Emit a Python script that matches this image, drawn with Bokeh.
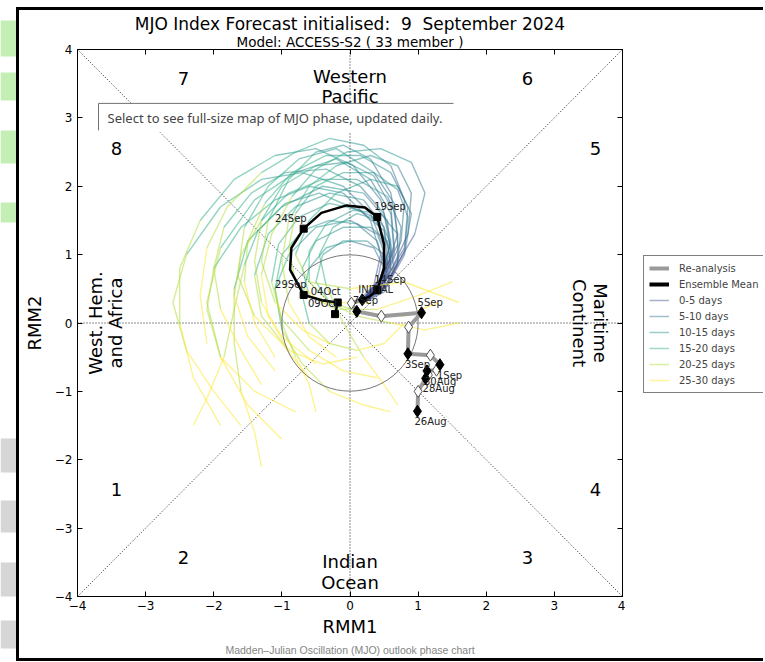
import numpy as np
from bokeh.plotting import figure
from bokeh.layouts import row, column
from bokeh.models import (Range1d, LinearAxis, FixedTicker, Label, Legend,
                          LegendItem, Title, Spacer, Div)
from bokeh.core.properties import value
from bokeh.embed import file_html
from bokeh.resources import INLINE

# ---------------- data ----------------
TITLE = "MJO Index Forecast initialised:\u00a0 9\u00a0 September 2024"
SUBTITLE = "Model: ACCESS-S2 ( 33 member )"
CAPTION = "Madden\u2013Julian Oscillation (MJO) outlook phase chart"
TOOLTIP = "Select to see full-size map of MJO phase, updated daily."
X_LABEL = "RMM1"
Y_LABEL = "RMM2"

tick_values = [-4, -3, -2, -1, 0, 1, 2, 3, 4]
tick_labels = ["\u22124", "\u22123", "\u22122", "\u22121", "0", "1", "2", "3", "4"]

lead_classes = ["0-5 days", "5-10 days", "10-15 days", "15-20 days", "20-25 days", "25-30 days"]
lead_colors = ["#3b4f8b", "#2c728e", "#21918c", "#28ae80", "#addc30", "#fde725"]

# Re-analysis (observed) 26 Aug .. 9 Sep
reana_x = [0.99, 1.00, 1.11, 1.15, 1.13, 1.27, 1.32, 1.18, 0.85, 0.86, 1.05, 0.46, 0.10, 0.02, 0.18]
reana_y = [-1.29, -1.00, -0.81, -0.76, -0.70, -0.69, -0.61, -0.47, -0.45, -0.06, 0.15, 0.10, 0.17, 0.29, 0.34]
reana_labels = ["26Aug", "", "28Aug", "", "30Aug", "", "1Sep", "", "3Sep", "", "5Sep", "", "7Sep", "", "INITIAL"]

# Ensemble mean forecast (lead days)
mean_days = [0, 2.5, 5, 6.5, 8, 10, 11.5, 13, 14, 15, 16.5, 18, 20, 22.5, 25, 27.5, 30]
mean_x = [0.18, 0.29, 0.40, 0.50, 0.50, 0.40, 0.22, -0.05, -0.42, -0.68, -0.86, -0.88, -0.68, -0.40, -0.18, -0.20, -0.22]
mean_y = [0.34, 0.39, 0.48, 0.80, 1.15, 1.55, 1.69, 1.72, 1.61, 1.38, 1.10, 0.78, 0.41, 0.33, 0.30, 0.21, 0.13]
mean_marker_days = [5, 10, 15, 20, 25, 30]
mean_marker_labels = ["14Sep", "19Sep", "24Sep", "29Sep", "04Oct", "09Oct"]

# Ensemble members, sampled every 2.5 lead days (0 .. 30)
member_days = [0, 2.5, 5, 7.5, 10, 12.5, 15, 17.5, 20, 22.5, 25, 27.5, 30]
members_x = [
    [0.18, 0.45, 0.65, 0.60, 0.30, -0.20, -0.80, -1.40, -1.90, -2.10, -1.90, -1.50, -1.00],
    [0.20, 0.50, 0.70, 0.60, 0.30, -0.10, -0.50, -0.90, -1.20, -1.30, -1.10, -0.70, -0.30],
    [0.15, 0.40, 0.55, 0.50, 0.20, -0.30, -0.80, -1.20, -1.40, -1.30, -0.90, -0.40, 0.10],
    [0.20, 0.45, 0.60, 0.55, 0.30, -0.10, -0.50, -0.70, -0.60, -0.20, 0.40, 1.00, 1.50],
    [0.20, 0.55, 0.80, 0.90, 0.70, 0.30, -0.20, -0.60, -0.80, -0.60, 0.00, 0.80, 1.60],
    [0.18, 0.40, 0.50, 0.30, -0.10, -0.70, -1.30, -1.90, -2.40, -2.60, -2.40, -2.00, -1.60],
    [0.20, 0.45, 0.60, 0.55, 0.20, -0.40, -1.00, -1.50, -1.70, -1.70, -1.60, -1.40, -1.30],
    [0.20, 0.40, 0.50, 0.35, 0.00, -0.35, -0.60, -0.70, -0.60, -0.30, 0.10, 0.50, 0.80],
    [0.18, 0.50, 0.75, 0.80, 0.60, 0.20, -0.30, -0.80, -1.30, -1.80, -2.10, -2.20, -2.10],
    [0.20, 0.45, 0.55, 0.40, 0.00, -0.50, -0.90, -1.10, -1.00, -0.70, -0.30, 0.20, 0.60],
    [0.15, 0.35, 0.45, 0.30, -0.10, -0.60, -1.10, -1.60, -2.00, -2.10, -1.90, -1.40, -0.80],
    [0.20, 0.55, 0.85, 0.90, 0.70, 0.30, -0.20, -0.60, -0.90, -1.00, -0.90, -0.60, -0.20],
    [0.20, 0.50, 0.70, 0.75, 0.55, 0.10, -0.40, -0.90, -1.30, -1.60, -1.70, -1.50, -1.10],
    [0.20, 0.40, 0.55, 0.50, 0.25, -0.10, -0.40, -0.50, -0.30, 0.10, 0.60, 1.10, 1.60],
    [0.18, 0.40, 0.60, 0.50, 0.15, -0.35, -0.95, -1.45, -1.85, -2.00, -1.90, -1.60, -1.30],
    [0.20, 0.45, 0.65, 0.60, 0.35, -0.05, -0.50, -1.00, -1.30, -1.40, -1.30, -1.00, -0.50],
    [0.20, 0.50, 0.70, 0.70, 0.45, 0.05, -0.35, -0.60, -0.60, -0.30, 0.20, 0.80, 1.30],
    [0.18, 0.45, 0.60, 0.45, 0.05, -0.50, -1.10, -1.70, -2.20, -2.50, -2.50, -2.30, -1.90],
    [0.20, 0.45, 0.60, 0.50, 0.15, -0.30, -0.75, -1.05, -1.15, -1.00, -0.60, -0.10, 0.40],
    [0.20, 0.50, 0.80, 0.85, 0.60, 0.15, -0.35, -0.85, -1.25, -1.50, -1.55, -1.40, -1.10],
    [0.18, 0.40, 0.50, 0.40, 0.10, -0.30, -0.70, -1.00, -1.10, -1.00, -0.80, -0.60, -0.50],
    [0.20, 0.55, 0.80, 0.85, 0.70, 0.35, -0.10, -0.50, -0.80, -0.90, -0.80, -0.40, 0.30],
    [0.20, 0.60, 0.95, 1.10, 0.90, 0.45, -0.05, -0.50, -0.85, -1.15, -1.30, -1.20, -0.90],
    [0.18, 0.42, 0.58, 0.35, 0.00, -0.45, -0.95, -1.35, -1.55, -1.70, -1.85, -2.10, -2.30],
    [0.20, 0.50, 0.65, 0.60, 0.45, 0.10, -0.25, -0.45, -0.35, -0.10, 0.20, 0.50, 0.70],
    [0.20, 0.45, 0.70, 0.65, 0.35, -0.20, -0.75, -1.20, -1.55, -1.65, -1.40, -1.00, -0.60],
]
members_y = [
    [0.34, 0.55, 1.00, 1.60, 2.10, 2.40, 2.20, 1.80, 1.10, 0.30, -0.50, -1.20, -1.70],
    [0.35, 0.70, 1.30, 1.90, 2.40, 2.60, 2.50, 2.10, 1.50, 0.90, 0.30, -0.10, -0.30],
    [0.30, 0.50, 0.90, 1.40, 1.80, 1.90, 1.70, 1.30, 0.70, 0.10, -0.40, -0.60, -0.50],
    [0.30, 0.45, 0.80, 1.20, 1.40, 1.40, 1.20, 0.80, 0.40, 0.20, 0.20, 0.40, 0.60],
    [0.35, 0.55, 1.00, 1.60, 2.00, 2.10, 1.90, 1.50, 1.00, 0.60, 0.50, 0.60, 0.30],
    [0.32, 0.60, 1.10, 1.60, 2.00, 2.20, 2.10, 1.70, 1.00, 0.30, -0.40, -1.00, -1.50],
    [0.30, 0.50, 0.95, 1.50, 1.90, 2.00, 1.70, 1.20, 0.50, -0.30, -1.00, -1.60, -2.10],
    [0.35, 0.50, 0.80, 1.10, 1.20, 1.10, 0.80, 0.40, 0.00, -0.30, -0.40, -0.30, 0.00],
    [0.35, 0.60, 1.20, 1.80, 2.30, 2.60, 2.70, 2.50, 2.20, 1.70, 1.10, 0.40, -0.30],
    [0.30, 0.50, 0.90, 1.30, 1.50, 1.40, 1.00, 0.50, -0.10, -0.60, -1.00, -1.20, -1.30],
    [0.35, 0.55, 1.00, 1.50, 1.90, 2.00, 1.80, 1.40, 0.80, 0.20, -0.50, -1.00, -1.30],
    [0.35, 0.65, 1.30, 1.90, 2.30, 2.45, 2.30, 2.00, 1.50, 0.90, 0.30, -0.20, -0.50],
    [0.30, 0.50, 0.90, 1.40, 1.85, 2.10, 2.10, 1.90, 1.50, 1.00, 0.40, -0.20, -0.70],
    [0.35, 0.45, 0.70, 1.00, 1.20, 1.20, 1.00, 0.60, 0.30, 0.10, 0.00, -0.10, 0.00],
    [0.32, 0.55, 1.05, 1.60, 2.00, 2.25, 2.20, 1.90, 1.40, 0.80, 0.20, -0.40, -0.90],
    [0.33, 0.60, 1.10, 1.70, 2.15, 2.35, 2.30, 2.00, 1.50, 0.90, 0.30, -0.20, -0.60],
    [0.34, 0.50, 0.85, 1.30, 1.60, 1.65, 1.45, 1.05, 0.60, 0.30, 0.15, 0.10, 0.30],
    [0.34, 0.65, 1.20, 1.80, 2.30, 2.55, 2.45, 2.10, 1.50, 0.80, 0.00, -0.80, -1.50],
    [0.30, 0.50, 0.90, 1.35, 1.65, 1.75, 1.55, 1.15, 0.60, 0.05, -0.40, -0.70, -0.80],
    [0.35, 0.60, 1.10, 1.70, 2.20, 2.45, 2.45, 2.20, 1.75, 1.20, 0.60, 0.00, -0.50],
    [0.33, 0.50, 0.85, 1.20, 1.45, 1.50, 1.35, 1.00, 0.50, 0.00, -0.50, -0.90, -1.30],
    [0.34, 0.60, 1.05, 1.55, 1.95, 2.20, 2.20, 2.00, 1.60, 1.10, 0.60, 0.30, 0.30],
    [0.34, 0.70, 1.30, 1.90, 2.35, 2.55, 2.50, 2.25, 1.85, 1.30, 0.70, 0.10, -0.40],
    [0.34, 0.58, 1.10, 1.55, 1.70, 1.90, 1.75, 1.35, 0.85, 0.20, -0.50, -1.10, -1.50],
    [0.30, 0.45, 0.75, 1.15, 1.50, 1.60, 1.40, 1.00, 0.55, 0.00, -0.50, -0.90, -1.20],
    [0.35, 0.65, 1.15, 1.75, 2.20, 2.55, 2.40, 2.00, 1.40, 0.70, 0.10, -0.30, -0.80],
]

phase_names = ["1", "2", "3", "4", "5", "6", "7", "8"]

# ---------------- layout helpers ----------------
FX0, FX1, FY0, FY1 = 77.0, 622.0, 49.0, 597.0   # chart frame edges on the page


def page_x(px):
    return -4 + 8 * (px - FX0) / (FX1 - FX0)


def page_y(py):
    return 4 - 8 * (py - FY0) / (FY1 - FY0)


DJ = "DejaVu Sans"


def bar(w, h, color="black"):
    return Div(text="", width=w, height=h, margin=0,
               styles={"background-color": color})


# ---------------- main chart ----------------
p = figure(width=606, height=648, x_range=Range1d(-4, 4), y_range=Range1d(-4, 4),
           output_backend="svg", toolbar_location=None, title_location=None,
           min_border_left=58, min_border_right=3, min_border_top=39, min_border_bottom=61)
p.grid.visible = False
p.outline_line_color = "black"
p.outline_line_width = 1
p.background_fill_color = "white"
p.border_fill_color = "white"

top_axis = LinearAxis()
right_axis = LinearAxis()
p.add_layout(top_axis, "above")
p.add_layout(right_axis, "right")
for ax in list(p.xaxis) + list(p.yaxis):
    ax.ticker = FixedTicker(ticks=tick_values)
    ax.minor_tick_line_color = None
    ax.major_tick_in = 5
    ax.major_tick_out = 0
    ax.axis_line_color = "black"
    ax.major_tick_line_color = "black"
    ax.major_label_text_font = DJ
    ax.major_label_text_font_size = "12px"
    ax.major_label_text_color = "black"
    ax.major_label_standoff = 5
bottom_axis, left_axis = p.below[0], p.left[0]
for ax in [bottom_axis, left_axis]:
    ax.major_label_overrides = dict(zip(tick_values, tick_labels))
    ax.axis_label_text_font = DJ
    ax.axis_label_text_font_size = "18px"
    ax.axis_label_text_font_style = "normal"
    ax.axis_label_text_color = "black"
bottom_axis.major_label_standoff = 4
bottom_axis.axis_label = X_LABEL
bottom_axis.axis_label_standoff = 3
left_axis.axis_label = Y_LABEL
left_axis.axis_label_standoff = 7
for ax in [top_axis, right_axis]:
    ax.major_label_overrides = {t: "" for t in tick_values}
    ax.major_label_text_font_size = "0px"
    ax.major_label_standoff = 0

p.add_layout(Title(text=SUBTITLE, align="center", text_font=DJ, text_font_size="13.5px",
                   text_font_style="normal", text_color="black", standoff=-1), "above")
p.add_layout(Title(text=TITLE, align="center", text_font=DJ, text_font_size="17px",
                   text_font_style="normal", text_color="black", standoff=-3), "above")
p.add_layout(Title(text=CAPTION, align="center", offset=50, text_font="Liberation Sans",
                   text_font_size="10.5px", text_font_style="normal", text_color="#858585",
                   standoff=5), "below")

# dotted phase dividers
p.segment(x0=[-4, -4, -4, 0], y0=[-4, 4, 0, -4], x1=[4, 4, 4, 0], y1=[4, -4, 0, 4],
          line_color="black", line_width=1, line_dash="1 2", line_alpha=0.9)

# ensemble members, coloured by lead time
for k, col in enumerate(lead_colors):
    xs, ys = [], []
    for mx, my in zip(members_x, members_y):
        xs.append(mx[2 * k:2 * k + 3])
        ys.append(my[2 * k:2 * k + 3])
    p.multi_line(xs=xs, ys=ys, line_color=col, line_width=1.4, line_alpha=0.5)

# unit circle
p.circle(x=[0], y=[0], radius=1, fill_alpha=0, line_color="#777777", line_width=1)

# tooltip box over the chart
p.quad(left=[page_x(98)], right=[page_x(453)], top=[page_y(103)], bottom=[page_y(132)],
       fill_color="white", line_alpha=0)
p.segment(x0=[page_x(98), page_x(98)], y0=[page_y(103), page_y(103)],
          x1=[page_x(453), page_x(98)], y1=[page_y(103), page_y(130)],
          line_color="#707070", line_width=1)

# ensemble mean
p.line(mean_x, mean_y, line_color="black", line_width=2.5)
mk_x = [mean_x[mean_days.index(d)] for d in mean_marker_days]
mk_y = [mean_y[mean_days.index(d)] for d in mean_marker_days]
p.scatter(mk_x, mk_y, marker="square", size=7, fill_color="black", line_color="black")

# re-analysis
p.line(reana_x, reana_y, line_color="#9a9a9a", line_width=4)
bx = [x for x, l in zip(reana_x, reana_labels) if l]
by = [y for y, l in zip(reana_y, reana_labels) if l]
wx = [x for x, l in zip(reana_x, reana_labels) if not l]
wy = [y for y, l in zip(reana_y, reana_labels) if not l]
p.scatter(wx, wy, marker="diamond", size=12, fill_color="white", line_color="#555555", line_width=1)
p.scatter(bx, by, marker="diamond", size=12, fill_color="black", line_color="black")

# point labels
lab_font = dict(text_font=value(DJ), text_font_size="10px", text_color="#222222")
rl = [l for l in reana_labels if l]
up = [i for i, y in enumerate(by) if y >= 0]
dn = [i for i, y in enumerate(by) if y < 0]
p.text([bx[i] for i in dn], [by[i] for i in dn], text=[rl[i] for i in dn], text_align="left",
       text_baseline="top", x_offset=-3, y_offset=5, **lab_font)
p.text([bx[i] for i in up], [by[i] for i in up], text=[rl[i] for i in up], text_align="left",
       text_baseline="bottom", x_offset=-4, y_offset=-5, **lab_font)
pos = [i for i, x in enumerate(mk_x) if x >= 0]
neg = [i for i, x in enumerate(mk_x) if x < 0]
p.text([mk_x[i] for i in pos], [mk_y[i] for i in pos], text=[mean_marker_labels[i] for i in pos],
       text_align="left", text_baseline="bottom", x_offset=-3, y_offset=-5, **lab_font)
p.text([mk_x[i] for i in neg], [mk_y[i] for i in neg], text=[mean_marker_labels[i] for i in neg],
       text_align="right", text_baseline="bottom", x_offset=3, y_offset=-5, **lab_font)


def add_label(x, y, text, size, font=DJ, color="black", angle=0, align="center"):
    p.add_layout(Label(x=x, y=y, text=text, text_font=font, text_font_size=size,
                       text_color=color, text_align=align, text_baseline="middle",
                       angle=angle))


phase_pos = [(116, 490), (183, 558), (527, 558), (595, 490), (595, 148), (527, 78), (183, 78), (116, 148)]
for name, (px, py) in zip(phase_names, phase_pos):
    add_label(page_x(px), page_y(py), name, "18px")

add_label(0, page_y(76), "Western", "18px")
add_label(0, page_y(96), "Pacific", "18px")
add_label(0, page_y(562), "Indian", "18px")
add_label(0, page_y(583), "Ocean", "18px")
add_label(page_x(95), 0, "West. Hem.", "18px", angle=np.pi / 2)
add_label(page_x(115), 0, "and Africa", "18px", angle=np.pi / 2)
add_label(page_x(600), 0, "Maritime", "18px", angle=-np.pi / 2)
add_label(page_x(579), 0, "Continent", "18px", angle=-np.pi / 2)
add_label(page_x(107), page_y(118), TOOLTIP, "13px", font="Noto Sans", color="#444444", align="left")

# ---------------- legend panel (to the right of the chart) ----------------
lf = figure(width=138, height=648, x_range=Range1d(0, 1), y_range=Range1d(0, 1),
            output_backend="svg", toolbar_location=None, title_location=None,
            x_axis_location=None, y_axis_location=None, min_border=0,
            outline_line_color=None, background_fill_color="white", border_fill_color="white")
lf.grid.visible = False
hidden = ([5, 6], [5, 6])   # legend sample renderers, kept outside the visible range
items = [LegendItem(label="Re-analysis", renderers=[lf.line(*hidden, line_color="#9a9a9a", line_width=4)]),
         LegendItem(label="Ensemble Mean", renderers=[lf.line(*hidden, line_color="black", line_width=4)])]
for lab, col in zip(lead_classes, lead_colors):
    items.append(LegendItem(label=lab, renderers=[lf.line(*hidden, line_color=col, line_width=1.5,
                                                          line_alpha=0.45)]))
legend = Legend(items=items, location=(18, 203), margin=0, padding=5, spacing=2,
                glyph_width=20, glyph_height=14, label_height=14, label_standoff=10,
                label_text_font=DJ, label_text_font_size="10px",
                border_line_color="black", border_line_width=1,
                background_fill_color="white", background_fill_alpha=1)
lf.add_layout(legend, "center")

# ---------------- page decoration: gutter and black frame ----------------
gutter = figure(width=16, height=654, x_range=Range1d(0, 16), y_range=Range1d(661, 7),
                output_backend="svg", toolbar_location=None, title_location=None,
                x_axis_location=None, y_axis_location=None, min_border=0,
                outline_line_color=None, background_fill_color="white", border_fill_color="white")
gutter.grid.visible = False
gutter.quad(left=0, right=16, top=[20, 72, 130, 202], bottom=[56, 100, 163, 222],
            fill_color="#c4efb4", line_alpha=0)
gutter.quad(left=0, right=16, top=[438, 500, 562, 620], bottom=[472, 532, 596, 648],
            fill_color="#d6d6d6", line_alpha=0)

layout = column(
    Spacer(width=763, height=7),
    row(gutter, bar(3, 654),
        column(bar(744, 3), row(p, lf), bar(744, 3))),
)

open("out.html", "w").write(file_html(layout, INLINE))
